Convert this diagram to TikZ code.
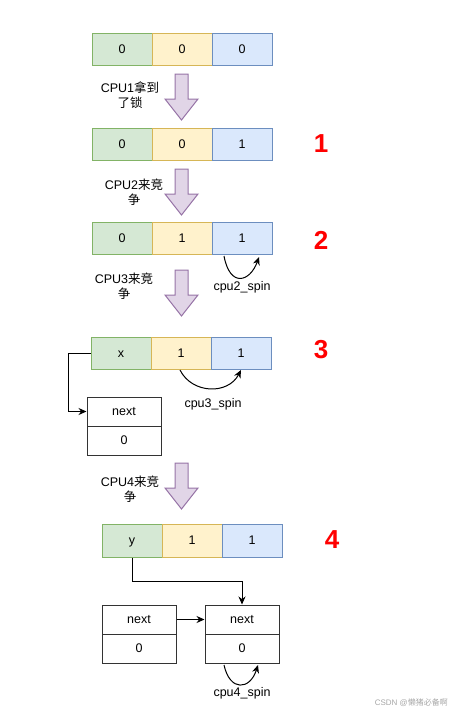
\documentclass[tikz,border=0pt]{standalone}
\usepackage{fontspec}
\setmainfont{Liberation Sans}
\newfontfamily\cjk{Noto Sans CJK SC}
\usetikzlibrary{arrows.meta}
\definecolor{gfill}{HTML}{D5E8D4}\definecolor{gline}{HTML}{82B366}
\definecolor{yfill}{HTML}{FFF2CC}\definecolor{yline}{HTML}{D6B656}
\definecolor{bfill}{HTML}{DAE8FC}\definecolor{bline}{HTML}{6C8EBF}
\definecolor{pfill}{HTML}{E1D5E7}\definecolor{pline}{HTML}{9673A6}
\definecolor{rednum}{HTML}{FF0000}
\tikzset{
  txt/.style={font=\fontsize{12.5}{15}\selectfont, inner sep=0pt, align=center},
  cell/.style={txt, draw, line width=1pt, minimum width=60pt, minimum height=32pt, text height=8.2pt, text depth=0pt},
  gcell/.style={cell, fill=gfill, draw=gline},
  ycell/.style={cell, fill=yfill, draw=yline},
  bcell/.style={cell, fill=bfill, draw=bline},
  wcell/.style={cell, fill=white, draw=black!80, minimum width=74pt, minimum height=29pt},
  bignum/.style={font=\fontsize{26}{28}\selectfont\bfseries, text=rednum, inner sep=0pt},
  conn/.style={line width=1pt, -{Stealth[length=8pt,width=7pt]}},
  pics/barrow/.style={code={
    \draw[fill=pfill, draw=pline, line width=1pt] (-6.5,0) -- (6.5,0) -- (6.5,25) -- (16.5,25) -- (0,46) -- (-16.5,25) -- (-6.5,25) -- cycle;}}
}
\begin{document}
\begin{tikzpicture}[x=1pt,y=-1pt]
\useasboundingbox (0,0) rectangle (451,716);
% row 0
\node[gcell] (r0a) at (122,49) {0};
\node[ycell] (r0b) at (182,49) {0};
\node[bcell] (r0c) at (242,49) {0};
\pic at (181.5,74) {barrow};
\node[txt] (l1) at (130,95) {CPU1{\cjk 拿到}\\{\cjk 了锁}};
% row 1
\node[gcell] (r1a) at (122,144) {0};
\node[ycell] (r1b) at (182,144) {0};
\node[bcell] (r1c) at (242,144) {1};
\node[bignum] (n1) at (321,144) {1};
\pic at (181.5,169) {barrow};
\node[txt] (l2) at (134,192) {CPU2{\cjk 来竞}\\{\cjk 争}};
% row 2
\node[gcell] (r2a) at (122,238) {0};
\node[ycell] (r2b) at (182,238) {1};
\node[bcell] (r2c) at (242,238) {1};
\node[bignum] (n2) at (321,240) {2};
\coordinate (s2a) at (224,256);
\coordinate (s2b) at (259,257);
\draw[conn] (s2a) .. controls (230,288) and (250,282) .. (s2b);
\node[txt] (sp2) at (242,287) {cpu2\_spin};
\pic at (181.5,270) {barrow};
\node[txt] (l3) at (124,286) {CPU3{\cjk 来竞}\\{\cjk 争}};
% row 3
\node[gcell] (r3a) at (121,353.5) {x};
\node[ycell] (r3b) at (181,353.5) {1};
\node[bcell] (r3c) at (241,353.5) {1};
\node[bignum] (n3) at (321,350) {3};
\coordinate (s3a) at (180,370);
\coordinate (s3b) at (241,370);
\draw[conn] (s3a) .. controls (192,394) and (228,395) .. (s3b);
\node[txt] (sp3) at (213,404) {cpu3\_spin};
\node[wcell] (nx3) at (124,411.5) {next};
\node[wcell] (v3) at (124,440.5) {0};
\draw[conn] (r3a.west) -- ++(-22,0) |- (nx3.west);
\pic at (181.5,463) {barrow};
\node[txt] (l4) at (130,489.5) {CPU4{\cjk 来竞}\\{\cjk 争}};
% row 4
\node[gcell, minimum height=33pt] (r4a) at (132,540.5) {y};
\node[ycell, minimum height=33pt] (r4b) at (192,540.5) {1};
\node[bcell, minimum height=33pt] (r4c) at (252,540.5) {1};
\node[bignum] (n4) at (332,540) {4};
\node[wcell] (nx4a) at (139,619.5) {next};
\node[wcell] (v4a) at (139,648.5) {0};
\node[wcell] (nx4b) at (242,619.5) {next};
\node[wcell] (v4b) at (242,648.5) {0};
\draw[conn] (r4a.south) -- ++(0,24) -| (nx4b.north);
\draw[conn] (nx4a.east) -- (nx4b.west);
\coordinate (s4a) at (224,665);
\coordinate (s4b) at (258,665);
\draw[conn] (s4a) .. controls (230,692) and (250,690) .. (s4b);
\node[txt] (sp4) at (242,693) {cpu4\_spin};
% watermark
\node[font=\fontsize{8}{9}\selectfont, text=black!35, anchor=east, inner sep=0pt] (wm) at (448,703) {CSDN @{\cjk 懒猪必备啊}};
\end{tikzpicture}
\end{document}
